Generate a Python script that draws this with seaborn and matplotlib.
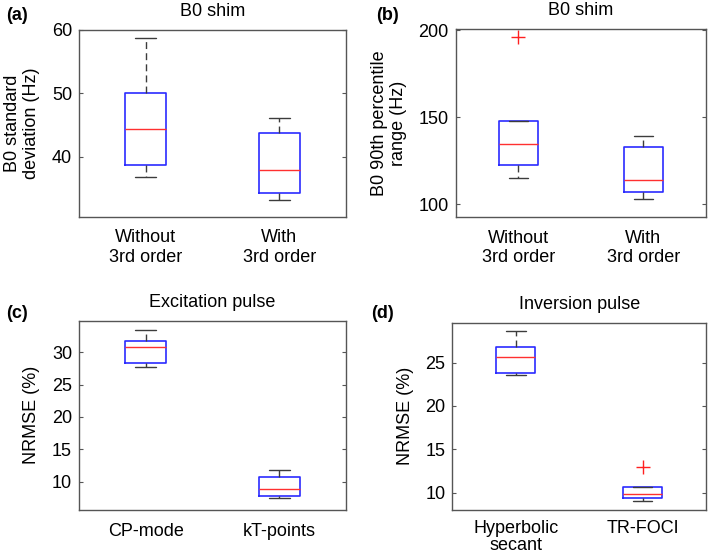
import matplotlib
matplotlib.use('Agg')
import matplotlib.pyplot as plt
import seaborn as sns
import pandas as pd

sns.set_theme(style='white')
plt.rcParams['font.family'] = ['Liberation Sans', 'DejaVu Sans']

# ---------------- data ----------------
# (a) B0 standard deviation (Hz)
a_categories = ['Without\n3rd order', 'With\n3rd order']
a_without = [36.8, 38.7, 44.4, 50.1, 58.7]
a_with = [33.2, 34.3, 37.9, 43.8, 46.1]
a_ticks = [40, 50, 60]

# (b) B0 90th percentile range (Hz)
b_categories = ['Without\n3rd order', 'With\n3rd order']
b_without = [114.8, 122.4, 134.7, 148.0, 195.8]
b_with = [102.9, 106.7, 113.8, 132.6, 138.9]
b_ticks = [100, 150, 200]

# (c) Excitation pulse NRMSE (%)
c_categories = ['CP-mode', 'kT-points']
c_cp = [27.8, 28.35, 30.9, 31.75, 33.4]
c_kt = [7.4, 7.7, 8.87, 10.7, 11.85]
c_ticks = [10, 15, 20, 25, 30]

# (d) Inversion pulse NRMSE (%)
d_categories = ['Hyperbolic\nsecant', 'TR-FOCI']
d_hs = [23.6, 23.83, 25.6, 26.8, 28.7]
d_tr = [9.07, 9.35, 9.88, 10.67, 13.0]
d_ticks = [10, 15, 20, 25]

W, H = 708, 556
fig = plt.figure(figsize=(W / 100, H / 100), dpi=100)
fig.patch.set_facecolor('white')

FRAME = '#555555'
FS = 13


def make_axes(left, right, top, bottom):
    return fig.add_axes([left / W, 1 - bottom / H, (right - left) / W, (bottom - top) / H])


def panel(ax, cats, v0, v1, ylim, ticks, title, ylabel, label_x, xpad=9, xls=1.2):
    df = pd.DataFrame({
        'group': [cats[0]] * len(v0) + [cats[1]] * len(v1),
        'value': list(v0) + list(v1),
    })
    sns.boxplot(
        data=df, x='group', y='value', order=cats, ax=ax,
        width=0.31, fill=False, whis=1.5, linewidth=1.0,
        boxprops=dict(color='#2b2bff', linewidth=1.2),
        medianprops=dict(color='#ff3030', linewidth=1.0),
        whiskerprops=dict(color='#3c3c3c', linestyle=(0, (5, 3)), linewidth=1.0),
        capprops=dict(color='#3c3c3c', linewidth=1.0),
        flierprops=dict(marker='+', markeredgecolor='#ff2020', markersize=10,
                        markeredgewidth=1.0),
    )
    ax.set_xlim(-0.5, 1.5)
    ax.set_ylim(*ylim)
    ax.set_yticks(ticks)
    ax.set_xlabel('')
    ax.set_ylabel(ylabel, fontsize=FS, color='black', linespacing=1.15)
    ax.yaxis.set_label_coords(label_x, 0.5)
    ax.set_title(title, fontsize=FS, pad=10, color='black')
    ax.tick_params(axis='y', direction='in', length=3, width=0.8, color=FRAME,
                   left=True, right=True, labelsize=FS, pad=5, labelcolor='black')
    ax.tick_params(axis='x', length=0, labelsize=FS, pad=xpad, labelcolor='black')
    for lab in ax.get_xticklabels():
        lab.set_linespacing(xls)
    for sp in ax.spines.values():
        sp.set_visible(True)
        sp.set_color(FRAME)
        sp.set_linewidth(1.0)
    ax.set_facecolor('white')


ax_a = make_axes(79, 346, 30, 217)
panel(ax_a, a_categories, a_without, a_with, (30.5, 60), a_ticks,
      'B0 shim', 'B0 standard\ndeviation (Hz)', -0.146)

ax_b = make_axes(455.7, 705.7, 29, 217.3)
panel(ax_b, b_categories, b_without, b_with, (92.4, 200.6), b_ticks,
      'B0 shim', 'B0 90th percentile\nrange (Hz)', -0.195)

ax_c = make_axes(79, 346, 320.7, 510)
panel(ax_c, c_categories, c_cp, c_kt, (5.6, 34.9), c_ticks,
      'Excitation pulse', 'NRMSE (%)', -0.146)

ax_d = make_axes(452.3, 706, 322.7, 510)
panel(ax_d, d_categories, d_hs, d_tr, (8.0, 29.6), d_ticks,
      'Inversion pulse', 'NRMSE (%)', -0.151, xpad=7, xls=1.05)

for txt, x, y in [('(a)', 17, 15), ('(b)', 388, 16), ('(c)', 17, 314), ('(d)', 383, 314)]:
    fig.text(x / W, 1 - y / H, txt, fontsize=FS, fontweight='bold',
             ha='center', va='center', color='black')

fig.savefig('out.png', dpi=100, facecolor='white')
